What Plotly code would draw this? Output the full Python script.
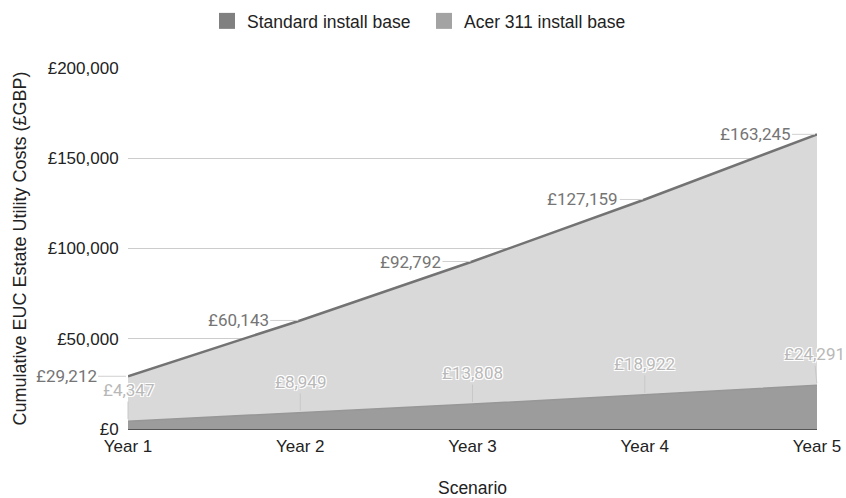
import plotly.graph_objects as go

years = ["Year 1", "Year 2", "Year 3", "Year 4", "Year 5"]
standard = [4347, 8949, 13808, 18922, 24291]
acer = [29212, 60143, 92792, 127159, 163245]
y_ticks = [0, 50000, 100000, 150000, 200000]
y_tick_labels = ["£0", "£50,000", "£100,000", "£150,000", "£200,000"]

AXFONT = "Arial, 'Liberation Sans', sans-serif"
LBLFONT = "Roboto, Arial, sans-serif"

fig = go.Figure()
fig.add_trace(go.Scatter(x=years, y=acer, mode="lines", fill="tozeroy",
                         fillcolor="#d9d9d9", line=dict(color="#737373", width=2.5),
                         showlegend=False, hoverinfo="skip"))
fig.add_trace(go.Scatter(x=years, y=standard, mode="lines", fill="tozeroy",
                         fillcolor="#9c9c9c", line=dict(color="#979797", width=1.5),
                         showlegend=False, hoverinfo="skip"))
# legend entries
fig.add_trace(go.Scatter(x=[None], y=[None], mode="markers", name="Standard install base",
                         marker=dict(symbol="square", size=16, color="#808080")))
fig.add_trace(go.Scatter(x=[None], y=[None], mode="markers", name="Acer 311 install base",
                         marker=dict(symbol="square", size=16, color="#a3a3a3")))

halo = "1px 1px 0 #fff, -1px -1px 0 #fff, 1px -1px 0 #fff, -1px 1px 0 #fff"
for i, (yr, v) in enumerate(zip(years, acer)):
    fig.add_annotation(x=yr, y=v, text=f"£{v:,}", showarrow=True, arrowhead=0,
                       arrowwidth=1, arrowcolor="#d0d0d0", ax=-62, ay=0, standoff=2,
                       xanchor="center", font=dict(family=LBLFONT, size=17, color="#757575", shadow=halo))
for i, (yr, v) in enumerate(zip(years, standard)):
    fig.add_annotation(x=yr, y=v, text=f"£{v:,}", showarrow=True, arrowhead=0,
                       arrowwidth=1, arrowcolor="#c8c8c8", ax=(-3 if i == 4 else 0), ay=-31,
                       standoff=2, font=dict(family=LBLFONT, size=17, color="#b8b8b8", shadow=halo))

W, H = 846, 498
fig.update_layout(
    width=W, height=H,
    margin=dict(l=128, r=29, t=68, b=69),
    paper_bgcolor="white", plot_bgcolor="white",
    font=dict(family=AXFONT, size=17, color="#222222"),
    legend=dict(orientation="h", xref="container", x=207 / W, xanchor="left",
                yref="container", y=1 - 21 / H, yanchor="middle",
                font=dict(size=17.5, color="#222222"), tracegroupgap=0,
                entrywidth=172, entrywidthmode="pixels"),
    xaxis=dict(range=[0, 4], showgrid=False, zeroline=False, showline=False,
               ticks="outside", ticklen=2, tickcolor="rgba(0,0,0,0)", tickfont=dict(size=17),
               title=dict(text="Scenario", font=dict(size=17.5), standoff=35),
               fixedrange=True, automargin=False),
    yaxis=dict(range=[0, 200000], tickvals=y_ticks, ticktext=y_tick_labels,
               showgrid=True, gridcolor="#cccccc", gridwidth=1,
               zeroline=True, zerolinecolor="#555555", zerolinewidth=1.5,
               ticks="outside", ticklen=5, tickcolor="rgba(0,0,0,0)",
               tickfont=dict(size=17),
               title=dict(text="Cumulative EUC Estate Utility Costs (£GBP)", font=dict(size=18), standoff=16),
               automargin=False, fixedrange=True),
)
fig.write_html("out.html", config={"displayModeBar": False},
               post_script="document.body.style.margin='0';document.body.style.overflow='hidden';")
